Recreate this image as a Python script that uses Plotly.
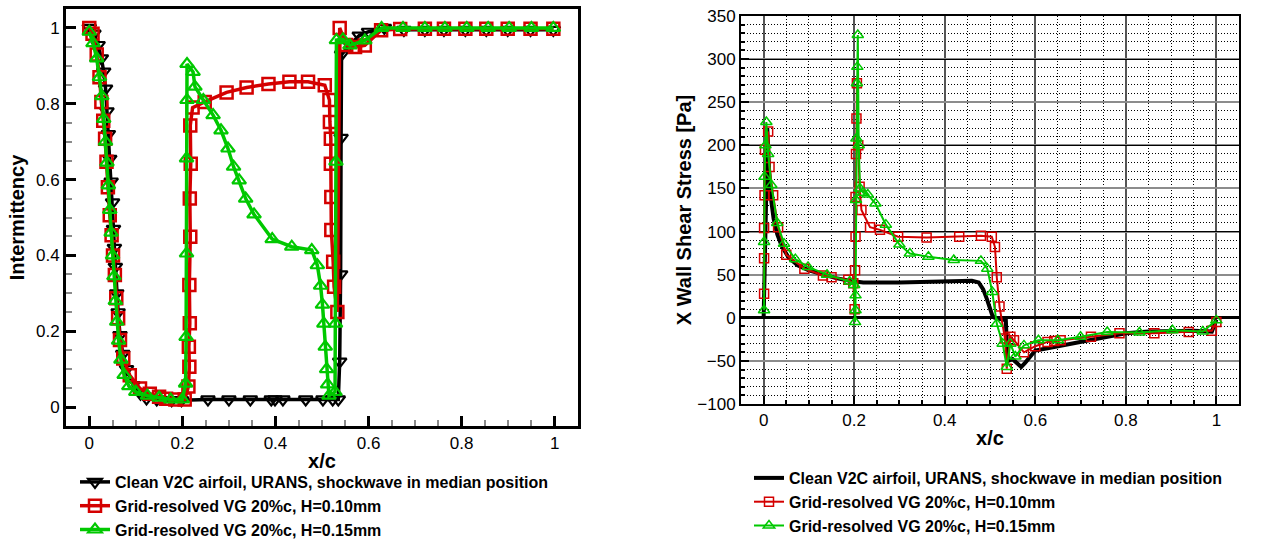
import plotly.graph_objects as go

FONT = "Liberation Sans, Arial, Helvetica, sans-serif"
RED = "#d40000"
GREEN = "#00c800"
BLACK = "#000000"

series_names = [
    "Clean V2C airfoil, URANS, shockwave in median position",
    "Grid-resolved VG 20%c, H=0.10mm",
    "Grid-resolved VG 20%c, H=0.15mm",
]

# ---------------- Left panel: Intermittency ----------------
int_clean_x = [0.0, 0.010, 0.019, 0.026, 0.031, 0.035, 0.038, 0.041, 0.044, 0.047, 0.050, 0.052,
               0.054, 0.056, 0.059, 0.062, 0.066, 0.072, 0.080, 0.094, 0.110, 0.123, 0.145, 0.177,
               0.198, 0.255, 0.300, 0.346, 0.391, 0.399, 0.416, 0.465, 0.502, 0.523, 0.535, 0.538,
               0.540, 0.541, 0.542, 0.560, 0.580, 0.600, 0.634, 0.676, 0.721, 0.762, 0.808, 0.853,
               0.899, 0.948, 0.997]
int_clean_y = [1.0, 0.985, 0.955, 0.92, 0.885, 0.84, 0.78, 0.72, 0.655, 0.595, 0.54, 0.47,
               0.42, 0.37, 0.30, 0.25, 0.19, 0.14, 0.10, 0.058, 0.035, 0.023, 0.02, 0.018,
               0.018, 0.02, 0.02, 0.02, 0.02, 0.02, 0.02, 0.02, 0.02, 0.02, 0.02, 0.12,
               0.35, 0.71, 0.93, 0.955, 0.98, 0.99, 1.0, 0.995, 0.995, 0.995, 0.995, 0.995,
               0.995, 0.995, 0.995]

int_h10_x = [0.0, 0.007, 0.016, 0.022, 0.026, 0.030, 0.034, 0.037, 0.040, 0.044, 0.048, 0.051,
             0.055, 0.058, 0.062, 0.066, 0.073, 0.087, 0.109, 0.130, 0.150, 0.165, 0.185, 0.205,
             0.213, 0.215, 0.214, 0.216, 0.215, 0.217, 0.216, 0.218, 0.217, 0.222, 0.248, 0.295,
             0.338, 0.385, 0.430, 0.470, 0.506, 0.516, 0.517, 0.519, 0.519, 0.520, 0.520, 0.524,
             0.526, 0.533, 0.538, 0.552, 0.571, 0.592, 0.627, 0.668, 0.721, 0.762, 0.808, 0.853,
             0.899, 0.948, 0.997]
int_h10_y = [1.0, 0.985, 0.93, 0.87, 0.805, 0.755, 0.708, 0.647, 0.58, 0.506, 0.453, 0.40,
             0.348, 0.287, 0.234, 0.177, 0.128, 0.084, 0.049, 0.035, 0.027, 0.022, 0.02, 0.02,
             0.054, 0.106, 0.159, 0.221, 0.322, 0.449, 0.55, 0.642, 0.743, 0.79, 0.805, 0.83,
             0.843, 0.852, 0.858, 0.858, 0.849, 0.81, 0.752, 0.708, 0.642, 0.554, 0.467, 0.383,
             0.317, 0.251, 1.0, 0.955, 0.95, 0.954, 0.994, 0.997, 0.998, 0.998, 0.998, 0.998,
             0.998, 0.998, 0.998]

int_h15_x = [0.0, 0.008, 0.016, 0.022, 0.027, 0.031, 0.035, 0.038, 0.041, 0.044, 0.047, 0.050,
             0.053, 0.056, 0.059, 0.063, 0.068, 0.075, 0.085, 0.100, 0.125, 0.150, 0.175, 0.200,
             0.207, 0.208, 0.209, 0.209, 0.210, 0.210, 0.223, 0.227, 0.245, 0.266, 0.283, 0.298,
             0.310, 0.322, 0.336, 0.354, 0.393, 0.435, 0.478, 0.490, 0.497, 0.501, 0.504, 0.507,
             0.510, 0.512, 0.515, 0.528, 0.529, 0.530, 0.531, 0.545, 0.560, 0.592, 0.628, 0.674,
             0.721, 0.764, 0.811, 0.857, 0.902, 0.950, 0.997]
int_h15_y = [0.99, 0.96, 0.92, 0.87, 0.82, 0.76, 0.70, 0.645, 0.585, 0.52, 0.46, 0.40,
             0.345, 0.28, 0.225, 0.175, 0.125, 0.085, 0.055, 0.04, 0.03, 0.025, 0.02, 0.02,
             0.062, 0.185, 0.405, 0.656, 0.81, 0.905, 0.884, 0.845, 0.81, 0.77, 0.73, 0.682,
             0.634, 0.598, 0.55, 0.508, 0.443, 0.423, 0.414, 0.374, 0.32, 0.27, 0.22, 0.159,
             0.10, 0.06, 0.03, 0.04, 0.22, 0.647, 0.968, 0.97, 0.954, 0.967, 1.0, 1.0,
             1.0, 1.0, 1.0, 1.0, 1.0, 1.0, 1.0]

# ---------------- Right panel: X wall shear stress ----------------
wss_clean_x = [0.0, 0.003, 0.006, 0.008, 0.010, 0.013, 0.017, 0.022, 0.030, 0.040, 0.055, 0.075,
               0.100, 0.130, 0.160, 0.190, 0.205, 0.220, 0.300, 0.400, 0.460, 0.475, 0.485, 0.493,
               0.500, 0.505, 0.510, 0.520, 0.530, 0.535, 0.537, 0.540, 0.550, 0.560, 0.569, 0.578,
               0.588, 0.600, 0.630, 0.680, 0.720, 0.760, 0.800, 0.850, 0.900, 0.950, 0.990, 1.0]
wss_clean_y = [0, 60, 150, 220, 195, 160, 135, 115, 97, 83, 70, 61,
               55, 50, 46, 43, 42, 41, 41, 42, 43, 41, 33, 22,
               10, 3, 0, -1, -2, -3, -30, -50, -48, -52, -57, -52,
               -45, -38, -35, -30, -25, -21, -18, -16, -15, -15, -16, -2]

wss_h10_x = [0.001, 0.001, 0.001, 0.002, 0.003, 0.010, 0.013, 0.021, 0.032, 0.050, 0.090, 0.131,
             0.150, 0.187, 0.198, 0.201, 0.202, 0.203, 0.203, 0.204, 0.205, 0.206, 0.209, 0.212,
             0.216, 0.235, 0.257, 0.297, 0.360, 0.432, 0.480, 0.504, 0.511, 0.515, 0.521, 0.533,
             0.537, 0.545, 0.553, 0.575, 0.600, 0.627, 0.642, 0.656, 0.723, 0.786, 0.863, 0.939,
             0.990, 1.0]
wss_h10_y = [28, 69, 104, 142, 195, 216, 175, 142, 105, 73, 57, 49,
             47, 44, 40, 10, 55, 94, 140, 190, 231, 272, 200, 152,
             125, 105, 102, 94, 93, 94, 95, 94, 82, 47, 13, -24,
             -59, -22, -26, -40, -33, -28, -27, -26, -22, -18, -18, -16.5,
             -15, -5]

wss_h15_x = [0.001, 0.001, 0.002, 0.004, 0.006, 0.010, 0.017, 0.030, 0.045, 0.070, 0.098, 0.140,
             0.190, 0.200, 0.202, 0.203, 0.203, 0.204, 0.205, 0.206, 0.207, 0.208, 0.210, 0.213,
             0.220, 0.230, 0.247, 0.270, 0.300, 0.323, 0.364, 0.420, 0.480, 0.494, 0.505, 0.515,
             0.528, 0.537, 0.545, 0.556, 0.575, 0.607, 0.650, 0.700, 0.759, 0.830, 0.903, 0.970,
             1.0]
wss_h15_y = [8.8, 88, 163.5, 200, 227, 190, 154, 110, 86, 68, 59, 50,
             42, 38, -5, 8.8, 26, 136.5, 208, 272, 291, 328, 200, 150,
             145, 143, 132.5, 108, 85, 74.5, 70.8, 67, 66, 57, 30, -7,
             -30, -57, -30, -45, -32, -26, -26, -22, -16.4, -17, -14.5, -16,
             -3]

fig = go.Figure()

# Left panel traces
fig.add_trace(go.Scatter(
    x=int_clean_x, y=int_clean_y, name=series_names[0], mode="lines+markers",
    line=dict(color=BLACK, width=3.5),
    marker=dict(symbol="triangle-down-open", size=12, color=BLACK, line=dict(width=2.2, color=BLACK)),
    xaxis="x", yaxis="y", legend="legend"))
fig.add_trace(go.Scatter(
    x=int_h10_x, y=int_h10_y, name=series_names[1], mode="lines+markers",
    line=dict(color=RED, width=3.5),
    marker=dict(symbol="square-open", size=12, color=RED, line=dict(width=2.5, color=RED)),
    xaxis="x", yaxis="y", legend="legend"))
fig.add_trace(go.Scatter(
    x=int_h15_x, y=int_h15_y, name=series_names[2], mode="lines+markers",
    line=dict(color=GREEN, width=3.5),
    marker=dict(symbol="triangle-up-open", size=12, color=GREEN, line=dict(width=2.2, color=GREEN)),
    xaxis="x", yaxis="y", legend="legend"))

# empty trace that activates the overlay axis carrying the black 100-step grid
fig.add_trace(go.Scatter(x=[None], y=[None], xaxis="x2", yaxis="y3", showlegend=False,
                         hoverinfo="skip", mode="lines"))

# Right panel traces
fig.add_trace(go.Scatter(
    x=wss_clean_x, y=wss_clean_y, name=series_names[0], mode="lines",
    line=dict(color=BLACK, width=4),
    xaxis="x2", yaxis="y2", legend="legend2"))
fig.add_trace(go.Scatter(
    x=wss_h10_x, y=wss_h10_y, name=series_names[1], mode="lines+markers",
    line=dict(color=RED, width=2),
    marker=dict(symbol="square-open", size=9, color=RED, line=dict(width=1.5, color=RED)),
    xaxis="x2", yaxis="y2", legend="legend2"))
fig.add_trace(go.Scatter(
    x=wss_h15_x, y=wss_h15_y, name=series_names[2], mode="lines+markers",
    line=dict(color=GREEN, width=2),
    marker=dict(symbol="triangle-up-open", size=10, color=GREEN, line=dict(width=1.5, color=GREEN)),
    xaxis="x2", yaxis="y2", legend="legend2"))

W, H = 1274, 543
tickfont = dict(family=FONT, size=17, color="black")
titlefont = dict(family=FONT, size=20, color="black", weight="bold")
legfont = dict(family=FONT, size=16, color="black", weight="bold")
DOT = "1px,2px"

fig.update_layout(
    width=W, height=H,
    margin=dict(l=0, r=0, t=0, b=0, autoexpand=False),
    paper_bgcolor="white", plot_bgcolor="white",
    font=dict(family=FONT, color="black"),
    xaxis=dict(
        domain=[66 / W, 578 / W], range=[-0.05, 1.05], tick0=0, dtick=0.2,
        ticks="inside", ticklen=10, tickwidth=2.5, tickcolor="black",
        minor=dict(dtick=0.05, ticks="inside", ticklen=6, tickwidth=1.5, tickcolor="#8a8a8a"),
        showline=True, linewidth=3, linecolor="black", mirror=True, automargin=False,
        showgrid=False, zeroline=False, tickfont=tickfont,
        title=dict(text="x/c", font=titlefont, standoff=2), anchor="y"),
    yaxis=dict(
        domain=[1 - 426 / H, 1 - 9 / H], range=[-0.05, 1.05], tick0=0, dtick=0.2,
        ticks="inside", ticklen=10, tickwidth=2.5, tickcolor="black",
        minor=dict(dtick=0.05, ticks="inside", ticklen=6, tickwidth=1.5, tickcolor="#8a8a8a"),
        showline=True, linewidth=3, linecolor="black", mirror=True, automargin=False,
        showgrid=False, zeroline=False, tickfont=tickfont,
        title=dict(text="Intermittency", font=titlefont, standoff=6), anchor="x"),
    xaxis2=dict(
        domain=[741 / W, 1239 / W], range=[-0.05, 1.05], tick0=0, dtick=0.2,
        ticks="inside", ticklen=8, tickwidth=1.5, tickcolor="black",
        showgrid=True, gridcolor="#555555", gridwidth=1.5,
        minor=dict(dtick=0.05, ticks="inside", ticklen=4, tickcolor="black",
                   showgrid=True, griddash=DOT, gridcolor="black", gridwidth=1),
        showline=True, linewidth=2, linecolor="black", mirror=True, automargin=False,
        zeroline=False, tickfont=tickfont,
        title=dict(text="x/c", font=titlefont, standoff=2), anchor="y2"),
    yaxis2=dict(
        domain=[1 - 404 / H, 1 - 16 / H], range=[-100, 350], tick0=0, dtick=50,
        ticks="inside", ticklen=8, tickwidth=1.5, tickcolor="black",
        showgrid=True, gridcolor="#8c8c8c", gridwidth=1.5,
        minor=dict(dtick=10, ticks="inside", ticklen=4, tickcolor="black",
                   showgrid=True, griddash=DOT, gridcolor="black", gridwidth=1),
        showline=True, linewidth=2, linecolor="black", mirror=True, automargin=False,
        zeroline=True, zerolinecolor="black", zerolinewidth=2.5,
        tickfont=tickfont,
        title=dict(text="X Wall Shear Stress [Pa]", font=titlefont, standoff=0), anchor="x2"),
    yaxis3=dict(
        overlaying="y2", anchor="x2", range=[-100, 350], tick0=0, dtick=100,
        showgrid=True, gridcolor="black", gridwidth=1.2, automargin=False,
        showticklabels=False, ticks="", showline=False, zeroline=False),
    legend=dict(
        x=75 / W, y=1 - 465 / H, xanchor="left", yanchor="top",
        font=legfont, bgcolor="rgba(0,0,0,0)", borderwidth=0, tracegroupgap=0),
    legend2=dict(
        x=749 / W, y=1 - 461 / H, xanchor="left", yanchor="top",
        font=legfont, bgcolor="rgba(0,0,0,0)", borderwidth=0, tracegroupgap=0),
)

fig.write_html("out.html")
